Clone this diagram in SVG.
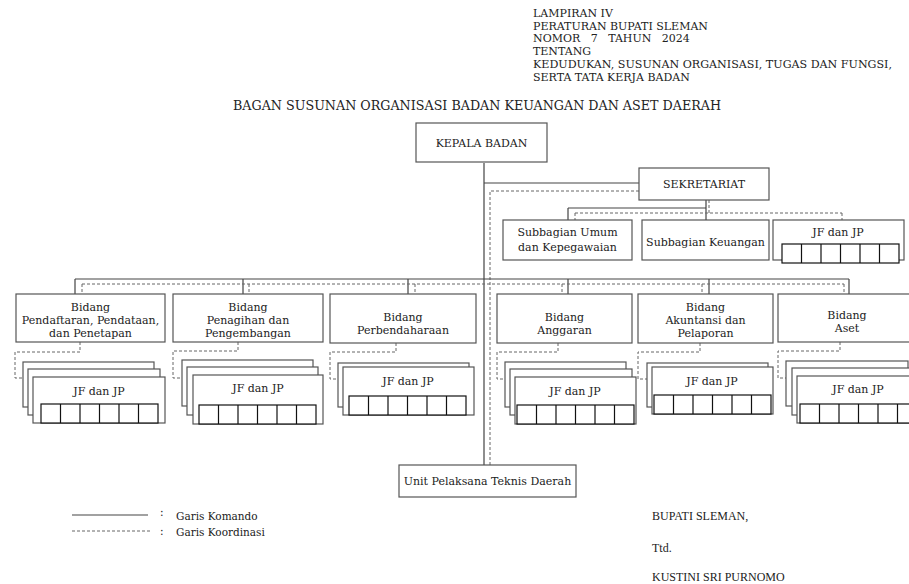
<svg xmlns="http://www.w3.org/2000/svg" width="909" height="584" viewBox="0 0 909 584">
<style>
text{font-family:"DejaVu Serif","Liberation Serif",serif;fill:#222;font-size:11px}
.hd{font-size:11px}
.ttl{font-size:12.5px}
.c{text-anchor:middle}
.box{fill:#fff;stroke:#555;stroke-width:1.2}
.sol{fill:none;stroke:#444;stroke-width:1.2}
.dash{fill:none;stroke:#666;stroke-width:1;stroke-dasharray:3,2}
.grid{fill:#fff;stroke:#111;stroke-width:1.2}
.lg{font-size:10.5px}
.sg{font-family:"Liberation Serif",serif;font-size:12px}
</style>
<defs>
<g id="g6">
<rect class="grid" x="0" y="0" width="117" height="19"/>
<path class="grid" d="M19.5 0V19M39 0V19M58.5 0V19M78 0V19M97.5 0V19"/>
</g>
</defs>
<rect width="909" height="584" fill="#fff"/>
<g id="header">
<text class="hd" x="533" y="17">LAMPIRAN IV</text>
<text class="hd" x="533" y="30">PERATURAN BUPATI SLEMAN</text>
<text class="hd" x="533" y="42" xml:space="preserve">NOMOR   7   TAHUN   2024</text>
<text class="hd" x="533" y="55">TENTANG</text>
<text class="hd" x="533" y="68" textLength="359" lengthAdjust="spacingAndGlyphs">KEDUDUKAN, SUSUNAN ORGANISASI, TUGAS DAN FUNGSI,</text>
<text class="hd" x="533" y="81">SERTA TATA KERJA BADAN</text>
<text class="ttl" x="233" y="110" textLength="488" lengthAdjust="spacingAndGlyphs">BAGAN SUSUNAN ORGANISASI BADAN KEUANGAN DAN ASET DAERAH</text>
</g>
<g id="connectors">
<path class="sol" d="M484 163V465M484 183H639"/>
<path class="dash" d="M490 465V191H639"/>
<path class="sol" d="M706 200V220M568 208H706M568 208V220"/>
<path class="dash" d="M709 200V213M575 213H842M575 213V220M842 213V220"/>
<path class="sol" d="M75 279H849M75 279V294M243 279V294M408 279V294M568 279V294M709 279V294M849 279V294"/>
<path class="dash" d="M82 284H844M82 284V294M249 284V294M415 284V294M562 284V294M702 284V294M844 284V294"/>
<path class="dash" d="M80 342V352H15V378H23"/>
<path class="dash" d="M238 342V351H173V378H182"/>
<path class="dash" d="M396 343V352H330V379H338"/>
<path class="dash" d="M558 343V352H497V379H505"/>
<path class="dash" d="M700 343V352H638V379H647"/>
<path class="dash" d="M840 342V351H778V378H786"/>
</g>
<g id="kepala">
<rect class="box" x="416" y="123" width="131" height="39"/>
<text class="c" x="481.5" y="147">KEPALA BADAN</text>
</g>
<g id="sekretariat">
<rect class="box" x="639" y="168" width="130" height="32"/>
<text class="c" x="704" y="188">SEKRETARIAT</text>
</g>
<g id="subbag-umum">
<rect class="box" x="503" y="220" width="129" height="40"/>
<text class="c" x="567.5" y="236">Subbagian Umum</text>
<text class="c" x="567.5" y="251">dan Kepegawaian</text>
</g>
<g id="subbag-keuangan">
<rect class="box" x="642" y="220" width="127" height="40"/>
<text class="c" x="705.5" y="246">Subbagian Keuangan</text>
</g>
<g id="jf-sekretariat">
<rect class="box" x="773" y="220" width="131" height="40"/>
<text class="c" x="838" y="236">JF dan JP</text>
<use href="#g6" x="782" y="244"/>
</g>
<g id="bidang-pendaftaran">
<rect class="box" x="16" y="294" width="149" height="48"/>
<text class="c" x="90.5" y="310.5">Bidang</text>
<text class="c" x="90.5" y="323.5">Pendaftaran, Pendataan,</text>
<text class="c" x="90.5" y="336.5">dan Penetapan</text>
</g>
<g id="jf-pendaftaran">
<rect class="box" x="23" y="362" width="131" height="45"/>
<rect class="box" x="28" y="369" width="132" height="46"/>
<rect class="box" x="33" y="377" width="132" height="46"/>
<text class="c" x="99" y="395">JF dan JP</text>
<use href="#g6" x="41" y="404"/>
</g>
<g id="bidang-penagihan">
<rect class="box" x="173" y="294" width="150" height="48"/>
<text class="c" x="248" y="310.5">Bidang</text>
<text class="c" x="248" y="323.5">Penagihan dan</text>
<text class="c" x="248" y="336.5">Pengembangan</text>
</g>
<g id="jf-penagihan">
<rect class="box" x="182" y="360" width="131" height="46"/>
<rect class="box" x="187" y="367" width="131" height="48"/>
<rect class="box" x="193" y="375" width="130" height="49"/>
<text class="c" x="258" y="392">JF dan JP</text>
<use href="#g6" x="199" y="405"/>
</g>
<g id="bidang-perbendaharaan">
<rect class="box" x="330" y="294" width="146" height="49"/>
<text class="c" x="403" y="320.5">Bidang</text>
<text class="c" x="403" y="333.5">Perbendaharaan</text>
</g>
<g id="jf-perbendaharaan">
<rect class="box" x="338" y="363" width="131" height="44"/>
<rect class="box" x="343" y="367" width="131" height="48"/>
<text class="c" x="408" y="385">JF dan JP</text>
<use href="#g6" x="349" y="396"/>
</g>
<g id="bidang-anggaran">
<rect class="box" x="497" y="294" width="135" height="49"/>
<text class="c" x="564.5" y="320.5">Bidang</text>
<text class="c" x="564.5" y="333.5">Anggaran</text>
</g>
<g id="jf-anggaran">
<rect class="box" x="505" y="362" width="121" height="45"/>
<rect class="box" x="510" y="369" width="122" height="46"/>
<rect class="box" x="515" y="377" width="121" height="47"/>
<text class="c" x="575" y="395">JF dan JP</text>
<use href="#g6" x="517" y="405"/>
</g>
<g id="bidang-akuntansi">
<rect class="box" x="638" y="294" width="135" height="49"/>
<text class="c" x="705.5" y="310.5">Bidang</text>
<text class="c" x="705.5" y="323.5">Akuntansi dan</text>
<text class="c" x="705.5" y="336.5">Pelaporan</text>
</g>
<g id="jf-akuntansi">
<rect class="box" x="647" y="363" width="121" height="44"/>
<rect class="box" x="652" y="367" width="121" height="47"/>
<text class="c" x="712" y="385">JF dan JP</text>
<use href="#g6" x="654" y="395"/>
</g>
<g id="bidang-aset">
<rect class="box" x="778" y="294" width="140" height="48"/>
<text class="c" x="847" y="318.5">Bidang</text>
<text class="c" x="847" y="331.5">Aset</text>
</g>
<g id="jf-aset">
<rect class="box" x="786" y="361" width="122" height="45"/>
<rect class="box" x="792" y="368" width="125" height="47"/>
<rect class="box" x="797" y="376" width="125" height="47"/>
<text class="c" x="858" y="393">JF dan JP</text>
<use href="#g6" x="800" y="404"/>
</g>
<g id="upt">
<rect class="box" x="399" y="465" width="177" height="32"/>
<text class="c" x="487.5" y="485">Unit Pelaksana Teknis Daerah</text>
</g>
<g id="legend">
<path class="sol" d="M72 515H148"/>
<path class="dash" d="M72 531H150"/>
<text class="lg" x="160" y="516">:</text>
<text class="lg" x="160" y="535">:</text>
<text class="lg" x="176" y="520">Garis Komando</text>
<text class="lg" x="176" y="536">Garis Koordinasi</text>
</g>
<g id="signature">
<text class="sg" x="652" y="520">BUPATI SLEMAN,</text>
<text class="sg" x="652" y="552">Ttd.</text>
<text class="sg" x="652" y="581">KUSTINI SRI PURNOMO</text>
</g>
</svg>
